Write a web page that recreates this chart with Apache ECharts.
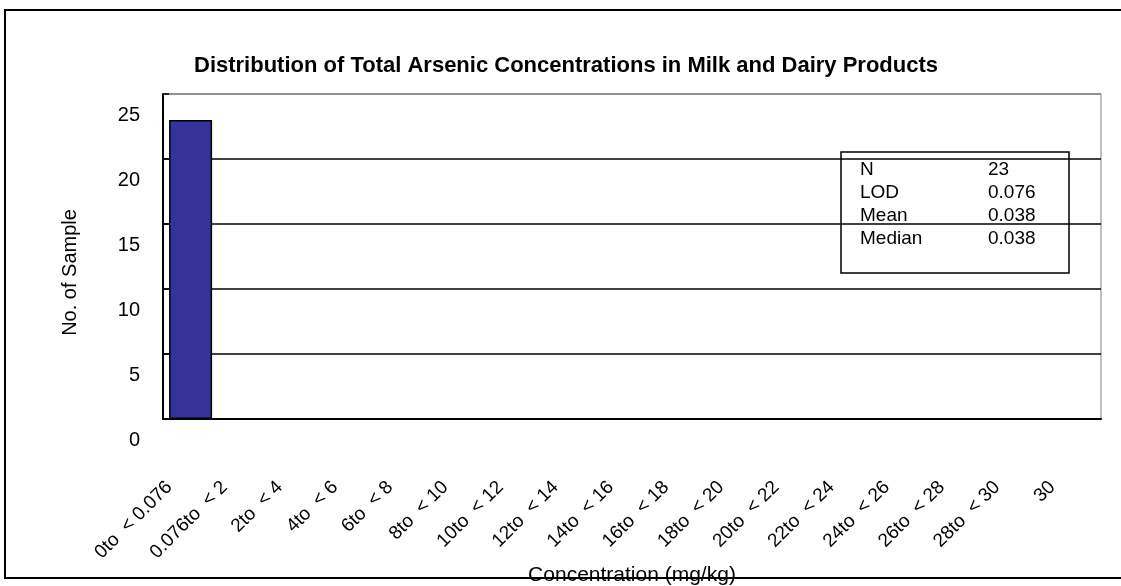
<!DOCTYPE html>
<html>
<head>
<meta charset="utf-8">
<script src="https://cdn.jsdelivr.net/npm/echarts@6/dist/echarts.min.js"></script>
<style>
  html, body { margin: 0; padding: 0; background: #fff; }
  #chart { width: 1121px; height: 586px; }
</style>
</head>
<body>
<div id="chart"></div>
<script>
// Histogram of total arsenic in milk and dairy samples
const titleText = 'Distribution of Total Arsenic Concentrations in Milk and Dairy Products';
const xAxisTitle = 'Concentration (mg/kg)';
const yAxisTitle = 'No. of Sample';

const categories = [
  '0to  < 0.076', '0.076to  < 2', '2to  < 4', '4to  < 6', '6to  < 8',
  '8to  < 10', '10to  < 12', '12to  < 14', '14to  < 16', '16to  < 18',
  '18to  < 20', '20to  < 22', '22to  < 24', '24to  < 26', '26to  < 28',
  '28to  < 30', '30'
];
const sampleCounts = [23, 0, 0, 0, 0, 0, 0, 0, 0, 0, 0, 0, 0, 0, 0, 0, 0];

const statLabels = ['N', 'LOD', 'Mean', 'Median'];
const statValues = ['23', '0.076', '0.038', '0.038'];

const yMin = 0;
const yMax = 25;
const yStep = 5;

const sans = '"Liberation Sans", Arial, sans-serif';

// summary statistics box
const statsChildren = [{
  type: 'rect',
  shape: { x: 0, y: 0, width: 228, height: 121 },
  style: { fill: '#fff', stroke: '#000', lineWidth: 1.5 }
}];
statLabels.forEach(function (label, i) {
  statsChildren.push({
    type: 'text', x: 19, y: 18 + i * 23,
    style: { text: label, fontFamily: sans, fontSize: 19, fill: '#000', verticalAlign: 'middle' }
  });
  statsChildren.push({
    type: 'text', x: 147, y: 18 + i * 23,
    style: { text: statValues[i], fontFamily: sans, fontSize: 19, fill: '#000', verticalAlign: 'middle' }
  });
});

const chart = echarts.init(document.getElementById('chart'), null, { renderer: 'canvas' });

const option = {
  animation: false,
  backgroundColor: '#fff',
  title: {
    text: titleText,
    left: 566,
    top: 55,
    textAlign: 'center',
    padding: 0,
    textStyle: { fontFamily: sans, fontWeight: 'bold', fontSize: 22, color: '#000' }
  },
  grid: {
    left: 163, top: 94, right: 20, bottom: 167,
    containLabel: false,
    outerBoundsMode: 'none',
    show: true, borderColor: '#808080', borderWidth: 1, backgroundColor: 'transparent'
  },
  xAxis: {
    type: 'category',
    data: categories,
    name: xAxisTitle,
    nameLocation: 'middle',
    nameGap: 146,
    nameMoveOverlap: false,
    nameTextStyle: { fontFamily: sans, fontSize: 21, color: '#000' },
    axisLine: { lineStyle: { color: '#000', width: 2 } },
    axisTick: { inside: true, length: 6, lineStyle: { color: '#000', width: 1.5 } },
    axisLabel: {
      rotate: 45, interval: 0, margin: 44, padding: [0, 30, 0, 0],
      fontFamily: sans, fontSize: 19, color: '#000'
    },
    splitLine: { show: false }
  },
  yAxis: {
    type: 'value',
    min: yMin, max: yMax, interval: yStep,
    name: yAxisTitle,
    nameLocation: 'middle',
    nameRotate: 90,
    nameGap: 83,
    nameMoveOverlap: false,
    nameTextStyle: { fontFamily: sans, fontSize: 20, color: '#000', padding: [0, 32, 0, 0] },
    axisLine: { show: true, lineStyle: { color: '#000', width: 2 } },
    axisTick: { show: true, inside: true, length: 6, lineStyle: { color: '#000', width: 1.5 } },
    axisLabel: {
      margin: 23, fontFamily: sans, fontSize: 20, color: '#000',
      verticalAlign: 'top', lineHeight: 42
    },
    splitLine: {
      show: true,
      lineStyle: { color: ['#000', '#000', '#000', '#000', '#000', '#808080'], width: 1.5 }
    }
  },
  series: [{
    type: 'bar',
    data: sampleCounts,
    barWidth: '78%',
    itemStyle: { color: '#333399', borderColor: '#000', borderWidth: 1.5 }
  }],
  graphic: [
    {
      type: 'rect',
      shape: { x: 5, y: 10, width: 1130, height: 568 },
      style: { fill: 'none', stroke: '#000', lineWidth: 2 },
      z: 100
    },
    {
      type: 'group',
      x: 841, y: 152,
      z: 100,
      children: statsChildren
    }
  ]
};

chart.setOption(option);
</script>
</body>
</html>
